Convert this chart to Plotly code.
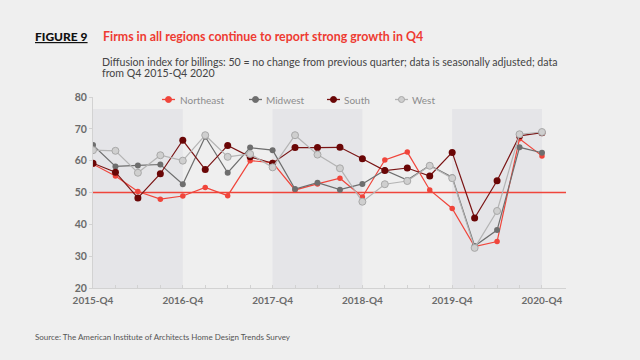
import plotly.graph_objects as go

quarters = ["2015-Q4", "2016-Q1", "2016-Q2", "2016-Q3", "2016-Q4", "2017-Q1", "2017-Q2",
            "2017-Q3", "2017-Q4", "2018-Q1", "2018-Q2", "2018-Q3", "2018-Q4", "2019-Q1",
            "2019-Q2", "2019-Q3", "2019-Q4", "2020-Q1", "2020-Q2", "2020-Q3", "2020-Q4"]
tick_labels = ["2015-Q4", "2016-Q4", "2017-Q4", "2018-Q4", "2019-Q4", "2020-Q4"]

northeast = [58.9, 55.2, 50.3, 47.9, 48.9, 51.6, 49.0, 60.0, 59.4, 50.8, 52.7, 54.5, 48.6,
             60.2, 62.7, 50.8, 45.0, 33.0, 34.6, 66.9, 61.5]
midwest = [64.9, 58.2, 58.5, 58.8, 52.6, 67.5, 56.2, 64.1, 63.3, 51.1, 53.1, 50.9, 52.7,
           57.0, 53.9, 58.5, 54.8, 33.2, 38.2, 64.2, 62.5]
south = [59.2, 56.4, 48.3, 55.9, 66.4, 57.2, 64.8, 61.2, 59.2, 64.1, 64.1, 64.2, 60.6,
         56.9, 57.7, 55.2, 62.6, 42.0, 53.7, 67.8, 68.8]
west = [63.3, 63.1, 56.2, 61.7, 60.0, 68.0, 61.2, 62.1, 57.9, 68.0, 61.9, 57.6, 47.1,
        52.6, 53.6, 58.4, 54.5, 32.6, 44.2, 68.3, 69.0]
baseline = 50
shaded = [("2015-Q4", "2016-Q4"), ("2017-Q4", "2018-Q4"), ("2019-Q4", "2020-Q4")]

# plot area in pixels
L, R, T, B = 93, 566, 97, 288
W, H = 640, 360


def px(xp):
    return (xp - L) / (R - L)


def py(yp):
    return (B - yp) / (B - T)


idx = {q: i for i, q in enumerate(quarters)}
fig = go.Figure()

series = [
    ("Northeast", northeast, "#f0453b", dict(color="#f0453b", size=5.5), "#f0453b", "#f0453b"),
    ("Midwest", midwest, "#6e6e6e", dict(color="#6e6e6e", size=6), "#6e6e6e", "#6e6e6e"),
    ("South", south, "#7a1414", dict(color="#6a0606", size=7), "#6a0606", "#6a0606"),
    ("West", west, "#b4b4b4", dict(color="#cfcfcf", size=7, line=dict(color="#a8a8a8", width=1)),
     "#cfcfcf", "#a8a8a8"),
]
for name, vals, lc, mk, _, _ in series:
    fig.add_trace(go.Scatter(x=quarters, y=vals, name=name, mode="lines+markers",
                             line=dict(color=lc, width=1.2), marker=mk, showlegend=False))

for a, b in shaded:
    fig.add_shape(type="rect", xref="x", yref="y", x0=idx[a], x1=idx[b], y0=20, y1=76.2,
                  fillcolor="#e5e5e8", line=dict(width=0), layer="below")
fig.add_shape(type="line", xref="x", yref="y", x0=0, x1=len(quarters) + 0.07,
              y0=baseline, y1=baseline, line=dict(color="#f0453b", width=1.6), layer="below")

# manual legend (layout positions in pixels)
legend_pos = [(162, 177.5), (249, 264), (327, 342), (395, 409.5)]
leg_y = 99.5
annotations = []
for (name, vals, lc, mk, fill, edge), (lx, tx) in zip(series, legend_pos):
    fig.add_shape(type="line", xref="paper", yref="paper", x0=px(lx), x1=px(lx + 13),
                  y0=py(leg_y), y1=py(leg_y), line=dict(color=lc, width=1.3))
    fig.add_shape(type="circle", xref="paper", yref="paper", xsizemode="pixel",
                  ysizemode="pixel", xanchor=px(lx + 6.5), yanchor=py(leg_y),
                  x0=-3, x1=3, y0=-3, y1=3, fillcolor=fill, line=dict(color=edge, width=1))
    annotations.append(dict(text=name, xref="paper", yref="paper", x=px(tx), y=py(leg_y),
                            xanchor="left", yanchor="middle", showarrow=False,
                            font=dict(family="Lato", size=10, color="#8c8c8c")))

tickvals = quarters
ticktext = [q if q in tick_labels else "" for q in quarters]

annotations += [
    dict(text="<u>FIGURE 9</u>", xref="paper", yref="paper", x=px(33), y=py(36.5),
         xanchor="left", yanchor="middle", showarrow=False,
         font=dict(family="Lato", size=12, color="#111111", weight=900)),
    dict(text="Firms in all regions continue to report strong growth in Q4", xref="paper",
         yref="paper", x=px(101), y=py(36.5), xanchor="left", yanchor="middle", showarrow=False,
         font=dict(family="Lato", size=12.4, color="#ee3b32", weight="bold")),
    dict(text="Diffusion index for billings: 50 = no change from previous quarter; data is seasonally adjusted; data",
         xref="paper", yref="paper", x=px(100), y=py(61.5), xanchor="left", yanchor="middle",
         showarrow=False, font=dict(family="Lato", size=10.6, color="#444444")),
    dict(text="from Q4 2015-Q4 2020",
         xref="paper", yref="paper", x=px(100), y=py(73), xanchor="left", yanchor="middle",
         showarrow=False, font=dict(family="Lato", size=10.6, color="#444444")),
    dict(text="Source: The American Institute of Architects Home Design Trends Survey",
         xref="paper", yref="paper", x=px(33), y=py(336.5), xanchor="left", yanchor="middle",
         showarrow=False, font=dict(family="Lato", size=8, color="#555555")),
]

fig.update_layout(
    width=W, height=H,
    margin=dict(l=L, r=W - R, t=T, b=H - B),
    paper_bgcolor="#efefef", plot_bgcolor="#efefef",
    showlegend=False,
    xaxis=dict(type="category", range=[0, len(quarters) + 0.07], tickvals=tickvals,
               ticktext=ticktext, showgrid=False, zeroline=False, showline=True,
               linecolor="#d2d2d2", linewidth=1, ticks="inside", ticklen=3, tickcolor="#d2d2d2",
               tickfont=dict(family="Lato", size=10, color="#6b6b6b", weight="bold"),
               tickangle=0, ticklabelstandoff=3),
    yaxis=dict(range=[20, 80], tickvals=[20, 30, 40, 50, 60, 70, 80], showgrid=False,
               zeroline=False, showline=True, linecolor="#d2d2d2", linewidth=1,
               ticks="outside", ticklen=3, tickcolor="#d2d2d2",
               tickfont=dict(family="Lato", size=10.5, color="#6b6b6b", weight="bold")),
    annotations=annotations,
)

fig.write_html("out.html", config={"displayModeBar": False},
               post_script="document.body.style.margin='0';document.body.style.background='#efefef';")
